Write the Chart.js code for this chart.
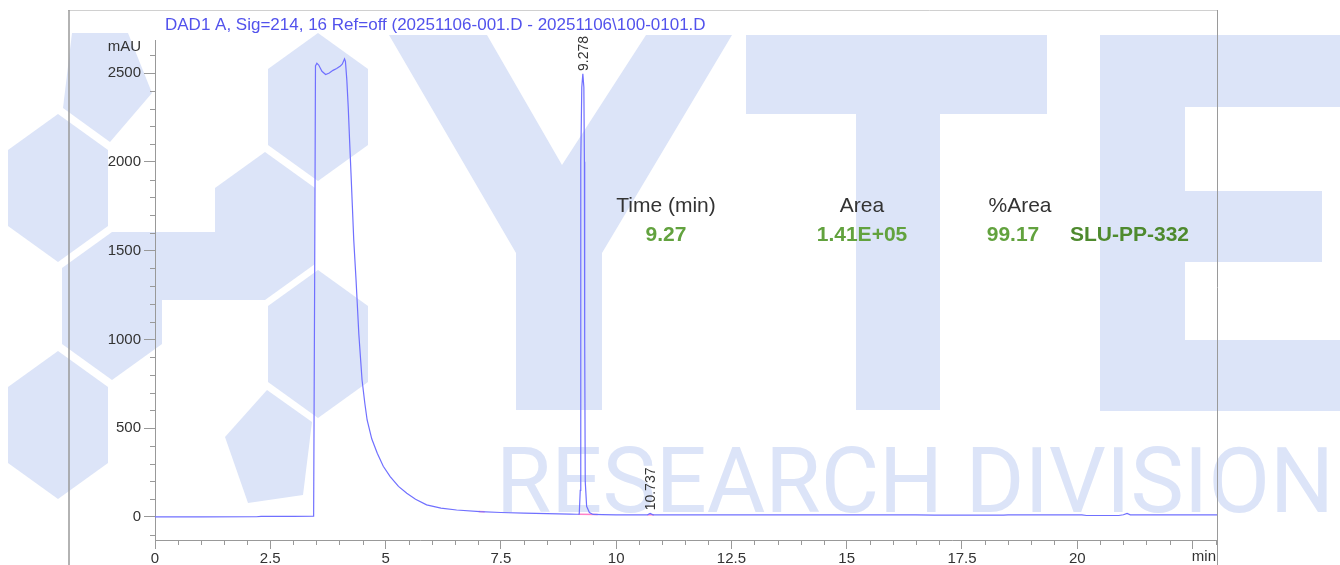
<!DOCTYPE html>
<html>
<head>
<meta charset="utf-8">
<title>DAD1 A chromatogram</title>
<script src="https://cdn.jsdelivr.net/npm/chart.js@4.4.1/dist/chart.umd.min.js"></script>
<style>
  html, body { margin: 0; padding: 0; background: #fff; }
  #wrap { width: 1340px; height: 565px; position: relative; }
</style>
</head>
<body>
<div id="wrap"><canvas id="chromChart" width="1340" height="565"></canvas></div>
<script>
// trace (time in min, signal in mAU)
const timeMin = [
  0, 1.0, 2.2, 2.3, 3.0, 3.44, 3.46, 3.48, 3.51, 3.55, 3.62, 3.70, 3.78, 3.86, 3.94, 4.02, 4.06,
  4.09, 4.11, 4.13, 4.16, 4.19, 4.22, 4.25, 4.28, 4.31, 4.36, 4.42, 4.49, 4.55, 4.60, 4.70, 4.82,
  4.95, 5.10, 5.28, 5.46, 5.65, 5.89, 6.2, 6.54, 7.05, 7.5, 8.0, 8.5, 9.0, 9.15, 9.20, 9.222,
  9.23, 9.236, 9.255, 9.278, 9.30, 9.312, 9.318, 9.33, 9.36, 9.42, 9.5, 9.7,
  10.0, 10.68, 10.737, 10.8, 11.5, 12.5, 14, 16.5, 16.9, 18.4, 18.5, 20.1, 20.2, 20.9, 21.0,
  21.08, 21.15, 22, 23.03
];
const signalMAU = [
  0, 0, 1, 3, 3, 4, 1200, 2540, 2555, 2545, 2510, 2492, 2500, 2515, 2525, 2540, 2550,
  2568, 2580, 2565, 2460, 2310, 2120, 1937, 1750, 1560, 1334, 1030, 771, 640, 546, 440, 359,
  285, 227, 172, 133, 100, 68, 50, 39, 30, 25, 21, 18, 16, 15, 16, 150,
  1000, 2000, 2420, 2495, 2420, 2000, 1000, 200, 60, 25, 14, 13,
  12, 12, 20, 12, 12, 12, 12, 12, 10, 10, 12, 12, 8, 8, 12,
  20, 12, 12, 12
];
// pink integration baseline marks
const markTimes = [7.02, 7.15, null, 9.18, 9.6, null, 10.68, 10.82];
const markLevels = [30, 29, null, 15, 13, null, 12, 12];

const peakTimes = [9.278, 10.737];
const peakTops = [2495, 20];
const peakLabels = ['9.278', '10.737'];

const xTickLabels = [0, 2.5, 5, 7.5, 10, 12.5, 15, 17.5, 20];
const yTickLabels = [0, 500, 1000, 1500, 2000, 2500];

const tableHeaders = ['Time (min)', 'Area', '%Area'];
const tableValues = ['9.27', '1.41E+05', '99.17'];
const compoundName = 'SLU-PP-332';
const titleText = 'DAD1 A, Sig=214, 16 Ref=off (20251106-001.D - 20251106\\100-0101.D';

const FONT = "'Liberation Sans', Arial, sans-serif";
const WM = 'rgb(220,228,248)';

function poly(ctx, pts) {
  ctx.beginPath();
  pts.forEach((p, i) => i ? ctx.lineTo(p[0], p[1]) : ctx.moveTo(p[0], p[1]));
  ctx.closePath();
  ctx.fill();
}

// light blue watermark behind everything
const watermark = {
  id: 'watermark',
  beforeDraw(chart) {
    const ctx = chart.ctx;
    ctx.save();
    ctx.fillStyle = '#fff';
    ctx.fillRect(0, 0, chart.width, chart.height);
    ctx.fillStyle = WM;
    [[58, 188], [318, 107], [265, 226], [112, 306], [58, 425], [318, 344]].forEach(([cx, cy]) => {
      poly(ctx, [[cx, cy - 74], [cx + 50, cy - 38], [cx + 50, cy + 38], [cx, cy + 74], [cx - 50, cy + 38], [cx - 50, cy - 38]]);
    });
    poly(ctx, [[112, 232], [265, 232], [265, 300], [112, 300]]);
    poly(ctx, [[72, 33], [128, 33], [152, 93], [110, 142], [63, 108]]);
    poly(ctx, [[267, 390], [312, 422], [303, 495], [248, 503], [225, 437]]);
    // Y
    poly(ctx, [[389, 35], [487, 35], [562, 165], [646, 35], [732, 35], [602, 253], [602, 410], [516, 410], [516, 253]]);
    // T
    poly(ctx, [[746, 35], [1047, 35], [1047, 114], [940, 114], [940, 410], [856, 410], [856, 114], [746, 114]]);
    // E
    poly(ctx, [[1100, 35], [1340, 35], [1340, 107], [1185, 107], [1185, 191], [1322, 191], [1322, 262],
      [1185, 262], [1185, 340], [1340, 340], [1340, 411], [1100, 411]]);
    ctx.font = "90px Roboto, " + FONT;
    ctx.textBaseline = 'alphabetic';
    const w = ctx.measureText('RESEARCH DIVISION').width;
    ctx.translate(496, 512);
    ctx.scale(838 / w, 1);
    ctx.fillText('RESEARCH DIVISION', 0, 0);
    ctx.restore();
  }
};

// frame, minor ticks, title, peak labels and the result table
const overlay = {
  id: 'overlay',
  afterDraw(chart) {
    const ctx = chart.ctx;
    const xs = chart.scales.x, ys = chart.scales.y;
    const area = chart.chartArea;
    ctx.save();
    ctx.strokeStyle = '#d0d0d0';
    ctx.lineWidth = 1;
    ctx.beginPath(); ctx.moveTo(68, 10.5); ctx.lineTo(area.right, 10.5); ctx.stroke();
    ctx.strokeStyle = '#9a9a9a';
    ctx.lineWidth = 1.5;
    ctx.beginPath(); ctx.moveTo(69, 10); ctx.lineTo(69, 565); ctx.stroke();
    ctx.lineWidth = 1;
    ctx.beginPath(); ctx.moveTo(area.right + 0.5, 10); ctx.lineTo(area.right + 0.5, 565); ctx.stroke();

    ctx.strokeStyle = '#999';
    ctx.beginPath();
    xs.ticks.forEach(t => {
      if (isMajorX(t.value)) return;
      const px = Math.round(xs.getPixelForValue(t.value)) + 0.5;
      ctx.moveTo(px, area.bottom); ctx.lineTo(px, area.bottom + 5);
    });
    ys.ticks.forEach(t => {
      if (t.value % 500 === 0) return;
      const py = Math.round(ys.getPixelForValue(t.value)) + 0.5;
      ctx.moveTo(area.left - 5, py); ctx.lineTo(area.left + 1, py);
    });
    ctx.stroke();

    ctx.fillStyle = '#333';
    ctx.font = '15px ' + FONT;
    ctx.textAlign = 'right';
    ctx.textBaseline = 'middle';
    ctx.fillText('mAU', area.left - 14, area.top + 7);
    ctx.fillText('min', area.right - 1, area.bottom + 17);

    ctx.fillStyle = 'rgb(82,82,236)';
    ctx.font = '17px ' + FONT;
    ctx.textAlign = 'left';
    ctx.textBaseline = 'alphabetic';
    ctx.fillText(titleText, area.left + 10, 30);

    ctx.fillStyle = '#333';
    ctx.font = '14px ' + FONT;
    ctx.textBaseline = 'middle';
    peakTimes.forEach((t, i) => {
      ctx.save();
      ctx.translate(xs.getPixelForValue(t) + 1, ys.getPixelForValue(peakTops[i]) - 3);
      ctx.rotate(-Math.PI / 2);
      ctx.textAlign = 'left';
      ctx.fillText(peakLabels[i], 0, 0);
      ctx.restore();
    });

    const headX = [666, 862, 1020];
    const valX = [666, 862, 1013];
    ctx.textAlign = 'center';
    ctx.font = '21px ' + FONT;
    ctx.fillStyle = '#333';
    tableHeaders.forEach((h, i) => ctx.fillText(h, headX[i], 206));
    ctx.font = 'bold 21px ' + FONT;
    ctx.fillStyle = 'rgb(98,162,62)';
    tableValues.forEach((v, i) => ctx.fillText(v, valX[i], 235));
    ctx.textAlign = 'left';
    ctx.fillStyle = 'rgb(78,138,46)';
    ctx.fillText(compoundName, 1070, 235);
    ctx.restore();
  }
};

function isMajorX(v) {
  return Math.abs(v / 2.5 - Math.round(v / 2.5)) < 1e-6;
}

const tracePoints = timeMin.map((t, i) => ({ x: t, y: signalMAU[i] }));
const markPoints = markTimes.map((t, i) => ({ x: t, y: markLevels[i] }));

new Chart(document.getElementById('chromChart'), {
  type: 'line',
  data: {
    datasets: [{
      data: tracePoints,
      borderColor: 'rgb(112,112,255)',
      borderWidth: 1.2,
      pointRadius: 0,
      tension: 0
    }, {
      data: markPoints,
      borderColor: 'rgb(255,130,200)',
      borderWidth: 1.5,
      pointRadius: 0,
      spanGaps: false
    }]
  },
  options: {
    responsive: false,
    animation: false,
    devicePixelRatio: 1,
    layout: { padding: { left: 68, right: 123, top: 40, bottom: 0 } },
    plugins: { legend: { display: false }, tooltip: { enabled: false } },
    scales: {
      x: {
        type: 'linear',
        min: 0,
        max: 23.03,
        afterBuildTicks(scale) {
          const ticks = [];
          for (let i = 0; i <= 46; i++) ticks.push({ value: i * 0.5 });
          scale.ticks = ticks;
        },
        afterFit(scale) { scale.height = 25; },
        border: { display: true, color: '#999', width: 1 },
        grid: {
          display: true,
          drawOnChartArea: false,
          drawTicks: true,
          tickLength: 9,
          tickColor: ctx => isMajorX(ctx.tick.value) ? '#999' : 'rgba(0,0,0,0)'
        },
        ticks: {
          autoSkip: false,
          maxRotation: 0,
          padding: 1,
          color: '#333',
          font: { family: FONT, size: 15 },
          callback: v => xTickLabels.includes(v) ? String(v) : ''
        }
      },
      y: {
        type: 'linear',
        min: -130,
        max: 2686,
        afterBuildTicks(scale) {
          const ticks = [];
          for (let v = -100; v <= 2600; v += 100) ticks.push({ value: v });
          scale.ticks = ticks;
        },
        afterFit(scale) { scale.width = 87; },
        border: { display: true, color: '#999', width: 1 },
        grid: {
          display: true,
          drawOnChartArea: false,
          drawTicks: true,
          tickLength: 11,
          tickColor: ctx => ctx.tick.value % 500 === 0 ? '#999' : 'rgba(0,0,0,0)'
        },
        ticks: {
          autoSkip: false,
          padding: 3,
          color: '#333',
          font: { family: FONT, size: 15 },
          callback: v => yTickLabels.includes(v) ? String(v) : ''
        }
      }
    }
  },
  plugins: [watermark, overlay]
});
</script>
</body>
</html>
